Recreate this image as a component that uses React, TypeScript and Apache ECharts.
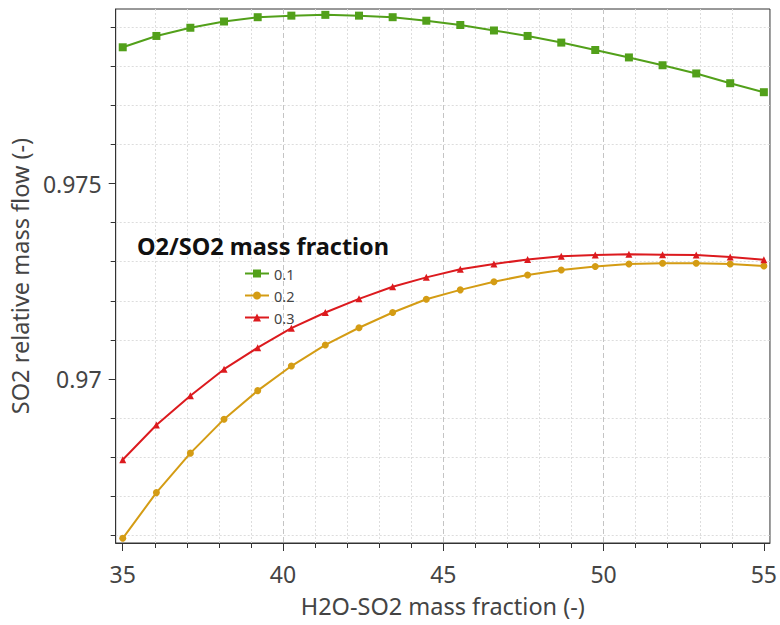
import React, { useEffect, useRef } from "react";
import * as echarts from "echarts";

const xValues = [35, 36.05, 37.11, 38.16, 39.21, 40.26, 41.32, 42.37, 43.42, 44.47, 45.53, 46.58, 47.63, 48.68, 49.74, 50.79, 51.84, 52.89, 53.95, 55];
const series01 = [0.97849, 0.97878, 0.97899, 0.97915, 0.97926, 0.9793, 0.97932, 0.9793, 0.97926, 0.97917, 0.97906, 0.97892, 0.97878, 0.97861, 0.97842, 0.97823, 0.97803, 0.97782, 0.97757, 0.97734];
const series02 = [0.96592, 0.96709, 0.9681, 0.96897, 0.9697, 0.97033, 0.97087, 0.97131, 0.9717, 0.97204, 0.97228, 0.97249, 0.97266, 0.97279, 0.97288, 0.97294, 0.97296, 0.97296, 0.97294, 0.97289];
const series03 = [0.96793, 0.96882, 0.96957, 0.97025, 0.9708, 0.9713, 0.9717, 0.97205, 0.97236, 0.9726, 0.97281, 0.97294, 0.97306, 0.97314, 0.97317, 0.97319, 0.97318, 0.97317, 0.97312, 0.97305];
const seriesNames = ["0.1", "0.2", "0.3"];
const xTickLabels = [35, 40, 45, 50, 55];
const yTickLabels = [0.97, 0.975];

const FONT = "'Noto Sans', 'Open Sans', sans-serif";

export default function App() {
  const ref = useRef<HTMLDivElement>(null);
  useEffect(() => {
    const chart = echarts.init(ref.current!, null, { renderer: "svg" });
    const mk = (vals: number[]) => vals.map((v, i) => [xValues[i], v]);
    const colors = ["#52a01a", "#d49c14", "#dc1a1e"];
    const symbols = ["rect", "circle", "triangle"];
    const sizes = [8, 7, 7];
    const data = [series01, series02, series03];
    chart.setOption({
      animation: false,
      backgroundColor: "#ffffff",
      grid: { left: 113, top: 9, right: 8, bottom: 82, show: true, borderColor: "#333", borderWidth: 1 },
      title: {
        text: "O2/SO2 mass fraction",
        left: 132,
        top: 229,
        textStyle: { fontFamily: FONT, fontSize: 23.5, fontWeight: "bold", color: "#111" },
      },
      legend: {
        orient: "vertical",
        left: 239,
        top: 261,
        itemWidth: 24,
        itemHeight: 10,
        itemGap: 7,
        textStyle: { fontFamily: FONT, fontSize: 14.5, color: "#444" },
        data: seriesNames,
      },
      xAxis: {
        type: "value",
        min: 34.78,
        max: 55.19,
        minInterval: 5,
        maxInterval: 5,
        name: "H2O-SO2 mass fraction (-)",
        nameLocation: "middle",
        nameGap: 51,
        nameTextStyle: { fontFamily: FONT, fontSize: 23.5, color: "#444" },
        axisLine: { show: true, lineStyle: { color: "#333", width: 1 } },
        axisTick: { show: true, inside: false, length: 8, customValues: xTickLabels, lineStyle: { color: "#333" } },
        minorTick: { show: true, splitNumber: 5, length: 5, lineStyle: { color: "#333" } },
        axisLabel: { customValues: xTickLabels, margin: 19, fontFamily: FONT, fontSize: 23, color: "#444" },
        splitLine: { show: true, showMinLine: false, showMaxLine: false, lineStyle: { color: "#c4c4c4", type: [5, 3], width: 1 } },
        minorSplitLine: { show: true, lineStyle: { color: "#dddddd", type: [2, 2], width: 1 } },
      },
      yAxis: {
        type: "value",
        min: 0.9658,
        max: 0.97947,
        minInterval: 0.005,
        maxInterval: 0.005,
        name: "SO2 relative mass flow (-)",
        nameLocation: "middle",
        nameGap: 77,
        nameTextStyle: { fontFamily: FONT, fontSize: 23.5, color: "#444" },
        axisLine: { show: true, lineStyle: { color: "#333", width: 1 } },
        axisTick: { show: true, inside: false, length: 7, customValues: yTickLabels, lineStyle: { color: "#333" } },
        minorTick: { show: true, splitNumber: 5, length: 5, lineStyle: { color: "#333" } },
        axisLabel: { customValues: yTickLabels, margin: 14, fontFamily: FONT, fontSize: 23, color: "#444" },
        splitLine: { show: true, showMinLine: false, showMaxLine: false, lineStyle: { color: "#c4c4c4", type: [5, 3], width: 1 } },
        minorSplitLine: { show: true, lineStyle: { color: "#dddddd", type: [2, 2], width: 1 } },
      },
      series: data.map((d, i) => ({
        name: seriesNames[i],
        type: "line",
        data: mk(d),
        symbol: symbols[i],
        symbolSize: sizes[i],
        showSymbol: true,
        lineStyle: { color: colors[i], width: 2 },
        itemStyle: { color: colors[i] },
        z: 3 + i,
      })),
    });
    return () => chart.dispose();
  }, []);
  return <div ref={ref} style={{ position: "fixed", left: 0, top: 0, width: 780, height: 625 }} />;
}
